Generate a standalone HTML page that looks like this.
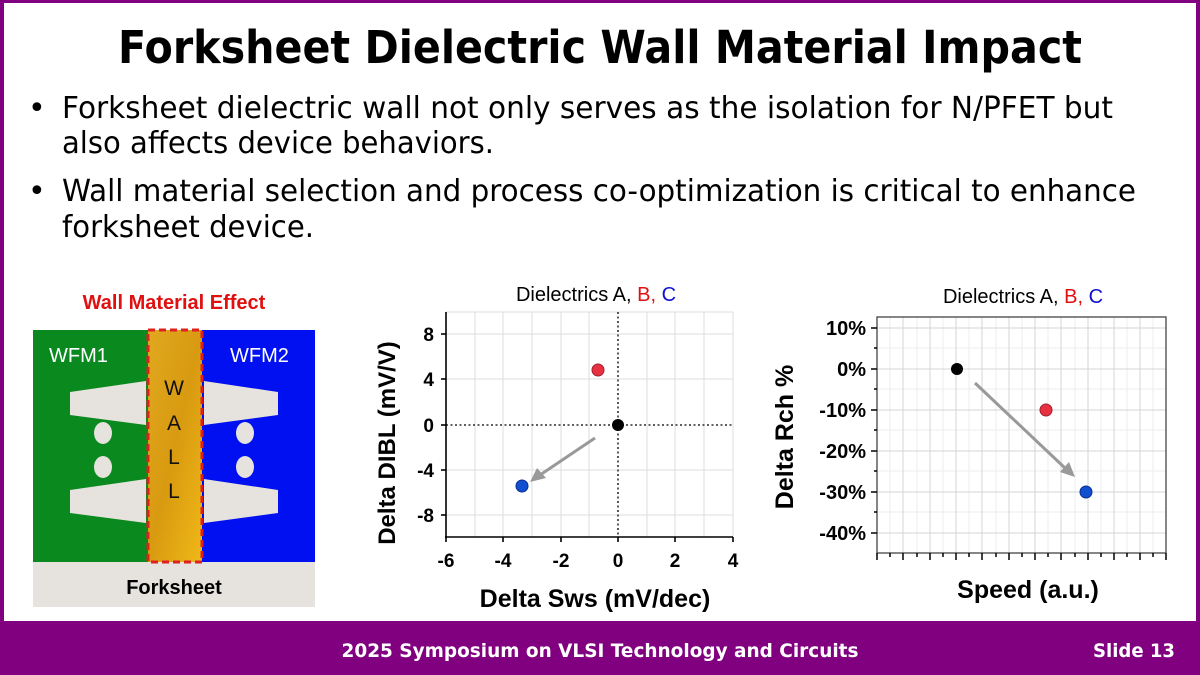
<!DOCTYPE html>
<html><head><meta charset="utf-8"><style>
html,body{margin:0;padding:0;background:#fff}
svg{display:block}
.t{font-family:"DejaVu Sans","Liberation Sans",sans-serif}
.a{font-family:"Liberation Sans",Arial,sans-serif}
</style></head><body>
<svg width="1200" height="675" viewBox="0 0 1200 675" xmlns="http://www.w3.org/2000/svg">
<rect x="0" y="0" width="1200" height="675" fill="#800080"/>
<rect x="4" y="3" width="1192" height="618" fill="#fff"/>
<text class="t" x="600" y="63" text-anchor="middle" font-size="45" font-weight="bold" textLength="964" lengthAdjust="spacingAndGlyphs">Forksheet Dielectric Wall Material Impact</text>
<g class="t" font-size="30" fill="#000">
<text x="28" y="118">•</text>
<text x="62" y="118" textLength="1051" lengthAdjust="spacingAndGlyphs">Forksheet dielectric wall not only serves as the isolation for N/PFET but</text>
<text x="62" y="153" textLength="432" lengthAdjust="spacingAndGlyphs">also affects device behaviors.</text>
<text x="28" y="201">•</text>
<text x="62" y="201" textLength="1074" lengthAdjust="spacingAndGlyphs">Wall material selection and process co-optimization is critical to enhance</text>
<text x="62" y="237" textLength="252" lengthAdjust="spacingAndGlyphs">forksheet device.</text>
</g>
<text class="a" x="174" y="309" text-anchor="middle" font-size="20" font-weight="bold" fill="#e01010">Wall Material Effect</text>
<rect x="33" y="330" width="115" height="232" fill="#0a8a1e"/>
<rect x="202" y="330" width="113" height="232" fill="#0010f0"/>
<rect x="33" y="562" width="282" height="45" fill="#e6e2de"/>
<defs><linearGradient id="wg" x1="0" y1="0" x2="1" y2="1"><stop offset="0" stop-color="#e0a820"/><stop offset="0.5" stop-color="#d89a10"/><stop offset="1" stop-color="#f0b818"/></linearGradient></defs>
<rect x="148" y="330" width="54" height="232" fill="url(#wg)"/>
<rect x="148" y="330" width="54" height="232" fill="none" stroke="#e02020" stroke-width="3" stroke-dasharray="7,4"/>
<g fill="#e6e2de">
<polygon points="70,392 146,381 146,425 70,415"/>
<polygon points="70,490 146,479 146,523 70,513"/>
<polygon points="278,392 204,381 204,425 278,415"/>
<polygon points="278,490 204,479 204,523 278,513"/>
<ellipse cx="103" cy="433" rx="9" ry="11"/><ellipse cx="103" cy="467" rx="9" ry="11"/>
<ellipse cx="245" cy="433" rx="9" ry="11"/><ellipse cx="245" cy="467" rx="9" ry="11"/>
</g>
<g class="a" font-size="20" fill="#fff"><text x="49" y="362">WFM1</text><text x="230" y="362">WFM2</text></g>
<g class="a" font-size="21" fill="#111" text-anchor="middle"><text x="174" y="395">W</text><text x="174" y="430">A</text><text x="174" y="464">L</text><text x="174" y="498">L</text></g>
<text class="a" x="174" y="594" text-anchor="middle" font-size="20" font-weight="bold">Forksheet</text>
<text class="a" x="596" y="301" text-anchor="middle" font-size="20">Dielectrics A, <tspan fill="#e01010">B,</tspan> <tspan fill="#1010d0">C</tspan></text>
<g stroke="#ddd" stroke-width="1">
<line x1="446" y1="312" x2="733" y2="312"/>
<line x1="733" y1="312" x2="733" y2="537"/>
<line x1="475" y1="312" x2="475" y2="537"/><line x1="503" y1="312" x2="503" y2="537"/><line x1="532" y1="312" x2="532" y2="537"/><line x1="561" y1="312" x2="561" y2="537"/><line x1="589" y1="312" x2="589" y2="537"/><line x1="647" y1="312" x2="647" y2="537"/><line x1="675" y1="312" x2="675" y2="537"/><line x1="704" y1="312" x2="704" y2="537"/>
<line x1="446" y1="334" x2="733" y2="334"/><line x1="446" y1="379" x2="733" y2="379"/><line x1="446" y1="470" x2="733" y2="470"/><line x1="446" y1="515" x2="733" y2="515"/>
</g>
<g stroke="#000" stroke-width="1.3" stroke-dasharray="2,2.5"><line x1="618" y1="312" x2="618" y2="537"/><line x1="446" y1="425" x2="733" y2="425"/></g>
<g stroke="#000" stroke-width="1.6"><line x1="446" y1="312" x2="446" y2="538"/><line x1="445" y1="537" x2="733" y2="537"/>
<line x1="441" y1="334" x2="446" y2="334"/><line x1="441" y1="379" x2="446" y2="379"/><line x1="441" y1="425" x2="446" y2="425"/><line x1="441" y1="470" x2="446" y2="470"/><line x1="441" y1="515" x2="446" y2="515"/>
<line x1="446" y1="537" x2="446" y2="542"/><line x1="503" y1="537" x2="503" y2="542"/><line x1="561" y1="537" x2="561" y2="542"/><line x1="618" y1="537" x2="618" y2="542"/><line x1="675" y1="537" x2="675" y2="542"/><line x1="733" y1="537" x2="733" y2="542"/>
</g>
<g class="a" font-size="19" font-weight="bold" text-anchor="end"><text x="434" y="341">8</text><text x="434" y="386">4</text><text x="434" y="432">0</text><text x="434" y="477">-4</text><text x="434" y="522">-8</text></g>
<g class="a" font-size="19" font-weight="bold" text-anchor="middle"><text x="446" y="567">-6</text><text x="503" y="567">-4</text><text x="561" y="567">-2</text><text x="618" y="567">0</text><text x="675" y="567">2</text><text x="733" y="567">4</text></g>
<text class="a" transform="translate(395,443) rotate(-90)" text-anchor="middle" font-size="24" font-weight="bold">Delta DIBL (mV/V)</text>
<text class="a" x="595" y="607" text-anchor="middle" font-size="25" font-weight="bold">Delta Sws (mV/dec)</text>
<line x1="595" y1="438" x2="540" y2="475" stroke="#999" stroke-width="3"/>
<polygon points="530,482 537,468 546,478" fill="#999"/>
<circle cx="598" cy="370" r="6" fill="#e83040" stroke="#a02030"/>
<circle cx="618" cy="425" r="6" fill="#000"/>
<circle cx="522" cy="486" r="6" fill="#1050d0" stroke="#0a3090"/>
<text class="a" x="1023" y="303" text-anchor="middle" font-size="20">Dielectrics A, <tspan fill="#e01010">B,</tspan> <tspan fill="#1010d0">C</tspan></text>
<g stroke="#eee" stroke-width="1">
<line x1="890" y1="317" x2="890" y2="553"/><line x1="917" y1="317" x2="917" y2="553"/><line x1="943" y1="317" x2="943" y2="553"/><line x1="969" y1="317" x2="969" y2="553"/><line x1="996" y1="317" x2="996" y2="553"/><line x1="1022" y1="317" x2="1022" y2="553"/><line x1="1048" y1="317" x2="1048" y2="553"/><line x1="1075" y1="317" x2="1075" y2="553"/><line x1="1101" y1="317" x2="1101" y2="553"/><line x1="1127" y1="317" x2="1127" y2="553"/><line x1="1153" y1="317" x2="1153" y2="553"/>
<line x1="877" y1="348" x2="1166" y2="348"/><line x1="877" y1="389" x2="1166" y2="389"/><line x1="877" y1="430" x2="1166" y2="430"/><line x1="877" y1="471" x2="1166" y2="471"/><line x1="877" y1="512" x2="1166" y2="512"/>
</g>
<g stroke="#d4d4d4" stroke-width="1">
<line x1="903" y1="317" x2="903" y2="553"/><line x1="930" y1="317" x2="930" y2="553"/><line x1="956" y1="317" x2="956" y2="553"/><line x1="982" y1="317" x2="982" y2="553"/><line x1="1009" y1="317" x2="1009" y2="553"/><line x1="1035" y1="317" x2="1035" y2="553"/><line x1="1061" y1="317" x2="1061" y2="553"/><line x1="1088" y1="317" x2="1088" y2="553"/><line x1="1114" y1="317" x2="1114" y2="553"/><line x1="1140" y1="317" x2="1140" y2="553"/>
<line x1="877" y1="328" x2="1166" y2="328"/><line x1="877" y1="369" x2="1166" y2="369"/><line x1="877" y1="410" x2="1166" y2="410"/><line x1="877" y1="451" x2="1166" y2="451"/><line x1="877" y1="492" x2="1166" y2="492"/><line x1="877" y1="533" x2="1166" y2="533"/>
</g>
<rect x="877" y="317" width="289" height="236" fill="none" stroke="#444" stroke-width="1.3"/>
<g stroke="#000" stroke-width="1.5">
<line x1="871" y1="328" x2="877" y2="328"/><line x1="871" y1="369" x2="877" y2="369"/><line x1="871" y1="410" x2="877" y2="410"/><line x1="871" y1="451" x2="877" y2="451"/><line x1="871" y1="492" x2="877" y2="492"/><line x1="871" y1="533" x2="877" y2="533"/>
<line x1="874" y1="348" x2="877" y2="348"/><line x1="874" y1="389" x2="877" y2="389"/><line x1="874" y1="430" x2="877" y2="430"/><line x1="874" y1="471" x2="877" y2="471"/><line x1="874" y1="512" x2="877" y2="512"/>
<line x1="877" y1="553" x2="877" y2="560"/><line x1="903" y1="553" x2="903" y2="560"/><line x1="930" y1="553" x2="930" y2="560"/><line x1="956" y1="553" x2="956" y2="560"/><line x1="982" y1="553" x2="982" y2="560"/><line x1="1009" y1="553" x2="1009" y2="560"/><line x1="1035" y1="553" x2="1035" y2="560"/><line x1="1061" y1="553" x2="1061" y2="560"/><line x1="1088" y1="553" x2="1088" y2="560"/><line x1="1114" y1="553" x2="1114" y2="560"/><line x1="1140" y1="553" x2="1140" y2="560"/><line x1="1166" y1="553" x2="1166" y2="560"/>
<line x1="890" y1="553" x2="890" y2="557"/><line x1="917" y1="553" x2="917" y2="557"/><line x1="943" y1="553" x2="943" y2="557"/><line x1="969" y1="553" x2="969" y2="557"/><line x1="996" y1="553" x2="996" y2="557"/><line x1="1022" y1="553" x2="1022" y2="557"/><line x1="1048" y1="553" x2="1048" y2="557"/><line x1="1075" y1="553" x2="1075" y2="557"/><line x1="1101" y1="553" x2="1101" y2="557"/><line x1="1127" y1="553" x2="1127" y2="557"/><line x1="1153" y1="553" x2="1153" y2="557"/>
</g>
<g class="a" font-size="20" font-weight="bold" text-anchor="end"><text x="866" y="335">10%</text><text x="866" y="376">0%</text><text x="866" y="417">-10%</text><text x="866" y="458">-20%</text><text x="866" y="499">-30%</text><text x="866" y="540">-40%</text></g>
<text class="a" transform="translate(793,437) rotate(-90)" text-anchor="middle" font-size="25" font-weight="bold">Delta Rch %</text>
<text class="a" x="1028" y="598" text-anchor="middle" font-size="25" font-weight="bold">Speed (a.u.)</text>
<line x1="975" y1="383" x2="1066" y2="469" stroke="#999" stroke-width="3"/>
<polygon points="1075,477 1060,472 1069,462" fill="#999"/>
<circle cx="957" cy="369" r="6" fill="#000"/>
<circle cx="1046" cy="410" r="6" fill="#e83040" stroke="#a02030"/>
<circle cx="1086" cy="492" r="6" fill="#1050d0" stroke="#0a3090"/>
<text class="t" x="600" y="657" text-anchor="middle" font-size="19" font-weight="bold" fill="#fff" textLength="517" lengthAdjust="spacingAndGlyphs">2025 Symposium on VLSI Technology and Circuits</text>
<text class="t" x="1175" y="657" text-anchor="end" font-size="19" font-weight="bold" fill="#fff" textLength="82" lengthAdjust="spacingAndGlyphs">Slide 13</text>
</svg>
</body></html>
